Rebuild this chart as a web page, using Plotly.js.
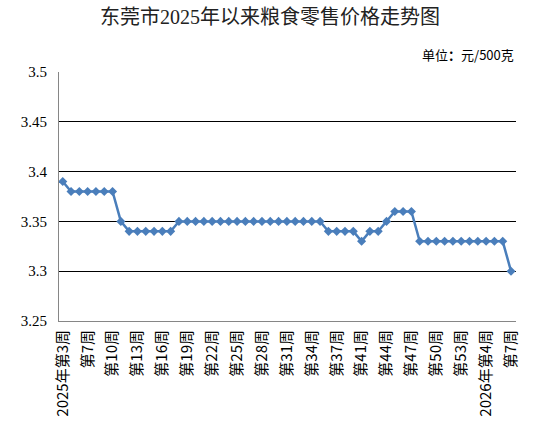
<!DOCTYPE html>
<html>
<head>
<meta charset="utf-8">
<script src="https://cdn.plot.ly/plotly-3.0.1.min.js"></script>
<style>html,body{margin:0;padding:0;background:#fff;}#chart{width:551px;height:438px;}</style>
</head>
<body>
<div id="chart"></div>
<script>
var weeks = [
  "2025年第3周","2025年第4周","2025年第6周","2025年第7周","2025年第8周","2025年第9周","2025年第10周",
  "2025年第11周","2025年第12周","2025年第13周","2025年第14周","2025年第15周","2025年第16周",
  "2025年第17周","2025年第18周","2025年第19周","2025年第20周","2025年第21周","2025年第22周",
  "2025年第23周","2025年第24周","2025年第25周","2025年第26周","2025年第27周","2025年第28周",
  "2025年第29周","2025年第30周","2025年第31周","2025年第32周","2025年第33周","2025年第34周",
  "2025年第35周","2025年第36周","2025年第37周","2025年第38周","2025年第39周","2025年第41周",
  "2025年第42周","2025年第43周","2025年第44周","2025年第45周","2025年第46周","2025年第47周",
  "2025年第48周","2025年第49周","2025年第50周","2025年第51周","2025年第52周","2025年第53周",
  "2026年第2周","2026年第3周","2026年第4周","2026年第5周","2026年第6周","2026年第7周"
];
var prices = [
  3.39,3.38,3.38,3.38,3.38,3.38,3.38,
  3.35,3.34,3.34,3.34,3.34,3.34,
  3.34,3.35,3.35,3.35,3.35,3.35,
  3.35,3.35,3.35,3.35,3.35,3.35,
  3.35,3.35,3.35,3.35,3.35,3.35,
  3.35,3.34,3.34,3.34,3.34,3.33,
  3.34,3.34,3.35,3.36,3.36,3.36,
  3.33,3.33,3.33,3.33,3.33,3.33,
  3.33,3.33,3.33,3.33,3.33,3.30
];
var tickWeeks = [
  "2025年第3周","2025年第7周","2025年第10周","2025年第13周","2025年第16周","2025年第19周",
  "2025年第22周","2025年第25周","2025年第28周","2025年第31周","2025年第34周","2025年第37周",
  "2025年第41周","2025年第44周","2025年第47周","2025年第50周","2025年第53周","2026年第4周","2026年第7周"
];
var tickLabels = [
  "2025年第3周","第7周","第10周","第13周","第16周","第19周",
  "第22周","第25周","第28周","第31周","第34周","第37周",
  "第41周","第44周","第47周","第50周","第53周","2026年第4周","第7周"
];
var yTicks = [3.25,3.3,3.35,3.4,3.45,3.5];
var yTickText = ["3.25","3.3","3.35","3.4","3.45","3.5"];

var trace = {
  x: weeks, y: prices, type: "scatter", mode: "lines+markers",
  line: {color: "#4A7EBB", width: 2.5},
  marker: {symbol: "diamond", size: 7, color: "#4A7EBB"},
  hoverinfo: "x+y"
};
var layout = {
  width: 551, height: 438,
  margin: {l: 59, r: 35, t: 72, b: 117},
  paper_bgcolor: "#fff", plot_bgcolor: "#fff",
  showlegend: false,
  title: {text: "东莞市2025年以来粮食零售价格走势图", x: 0.49, xanchor: "center", y: 0.962, yanchor: "middle",
          font: {family: "Liberation Serif, Noto Sans CJK SC, serif", size: 20, color: "#222"}},
  xaxis: {
    type: "category", range: [-0.45, 54.6],
    tickmode: "array", tickvals: tickWeeks, ticktext: tickLabels,
    tickangle: -90, ticks: "", showgrid: false,
    showline: true, linecolor: "#868686", linewidth: 1,
    ticklabelstandoff: 2,
    tickfont: {family: "Noto Sans CJK SC, sans-serif", size: 15, color: "#000"}
  },
  yaxis: {
    range: [3.25, 3.5], tickmode: "array", tickvals: yTicks, ticktext: yTickText,
    showgrid: true, gridcolor: "#000", gridwidth: 1, zeroline: false,
    showline: true, linecolor: "#868686", linewidth: 1, ticks: "",
    ticklabelstandoff: 8,
    tickfont: {family: "Liberation Serif, serif", size: 15, color: "#000"}
  },
  annotations: [{
    text: "单位<b>：</b>元/500克", xref: "paper", yref: "paper", x: 1.0, y: 1.0, xanchor: "right", yanchor: "bottom",
    yshift: 6, showarrow: false,
    font: {family: "Noto Sans CJK SC, sans-serif", size: 13, color: "#000"}
  }]
};
Plotly.newPlot("chart", [trace], layout, {displayModeBar: false, staticPlot: true});
</script>
</body>
</html>
